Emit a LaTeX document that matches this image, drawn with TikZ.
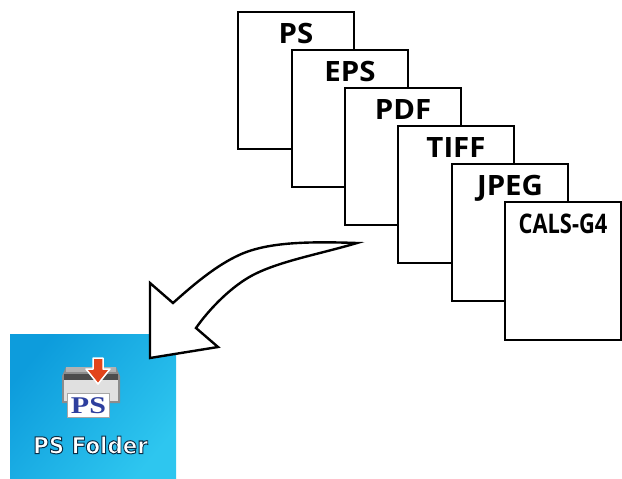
\documentclass[tikz,border=0pt]{standalone}
\usepackage{fontspec}
\setmainfont{Open Sans}
\newfontfamily\iconfont{DejaVu Sans}
\newfontfamily\stampfont{Liberation Serif}
\usepackage{tikz}
\usetikzlibrary{positioning}

\definecolor{icontop}{HTML}{0D9CDC}
\definecolor{iconlow}{HTML}{2EC6EF}
\definecolor{stampblue}{HTML}{2E3F9E}
\definecolor{printred}{HTML}{E2451C}

\tikzset{
	pagebox/.style={draw, line width=2.2pt, fill=white, minimum width=116pt, minimum height=137.5pt, inner sep=0pt},
	pagename/.style={font=\fontsize{28}{28}\selectfont\bfseries, inner sep=0pt, text height=20pt, text depth=0pt, xscale=1.05},
	foldername/.style={font=\iconfont\fontsize{23}{23}\selectfont\bfseries, inner sep=0pt, xscale=0.93}
}

\begin{document}
\begin{tikzpicture}
	[x=1pt,y=-1pt]
	\useasboundingbox (0,0) rectangle (622,479);
	% icon background first, the arrow sits on it
	\node [minimum width=166pt, minimum height=145pt, inner sep=0pt, anchor=north west, shade, shading=axis, left color=icontop, right color=iconlow, shading angle=50] (desktop) at (10,334) {};

	% stack of pages
	\foreach \pagenum/\px/\py/\pagetext in {ps/296/80.5/PS, eps/350/118.5/EPS, pdf/403/156.5/PDF, tiff/456/194.5/TIFF, jpeg/510/232.5/JPEG}
	{
		\node [pagebox] (\pagenum) at (\px,\py) {};
		\node [pagename, below=12.5pt of \pagenum.north] (\pagenum name) {\pagetext};
	}
	\node [pagebox] (cals) at (563,271) {};
	\node [pagename, below=12.5pt of cals.north, font=\fontsize{27}{27}\selectfont\bfseries, xscale=0.77] (cals name) {CALS-G4};

	% big curved arrow
	\draw [line width=2.4pt, fill=white, line join=miter, miter limit=10]
		(357,243) .. controls (300,241) and (262,243) .. (235,257)
		.. controls (213,268) and (192,286) .. (173,303)
		-- (150,283) -- (150,358) -- (218,347) -- (196,328)
		.. controls (210,308) and (232,286) .. (253,275)
		.. controls (280,261) and (320,254) .. cycle;

	% printer
	\fill [black!45] (62,376) -- (66,367) -- (116,367) -- (120,376) -- (120,403) -- (62,403) -- cycle;
	\fill [black!12] (64,380) rectangle (118,401);
	\fill [black!70] (64,374) rectangle (118,380);
	\fill [black!30] (66,367) rectangle (116,372);
	\node [draw=black!35, line width=1pt, fill=white, minimum width=42pt, minimum height=24pt, inner sep=0pt] (sheet) at (88.5,405.5) {};
	\node [font=\stampfont\fontsize{24}{24}\selectfont\bfseries, text=stampblue, inner sep=0pt, xscale=1.25] (stamp) at (sheet) {PS};
	\draw [white, line width=1.5pt, fill=printred, line join=round]
		(93,358) -- (103,358) -- (103,369) -- (110,369) -- (98,384) -- (86,369) -- (93,369) -- cycle;

	% label, stroked dark round the letters
	\node [foldername, text=white] (folder) at (90.5,445) {\special{pdf:code 2 Tr 1 w 0.04 0.18 0.28 RG}PS Folder\special{pdf:code 0 Tr}};
\end{tikzpicture}
\end{document}
